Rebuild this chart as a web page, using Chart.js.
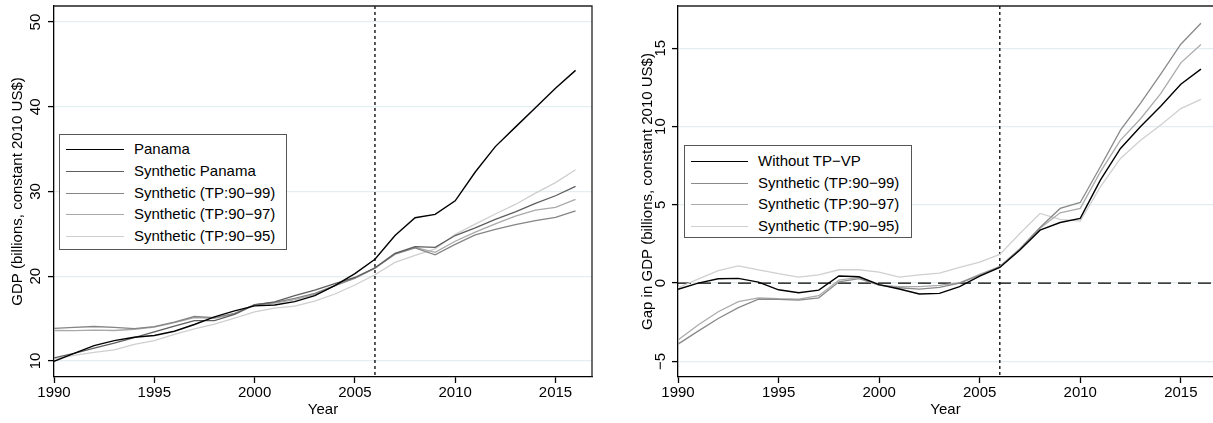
<!DOCTYPE html>
<html><head><meta charset="utf-8">
<script src="https://cdn.jsdelivr.net/npm/chart.js@4.4.0/dist/chart.umd.min.js"></script>
<style>
html,body{margin:0;padding:0;background:#fff;width:1213px;height:423px;overflow:hidden;font-family:"Liberation Sans",Arial,sans-serif;}
.wrap{position:absolute;top:0;height:423px;}
#w1{left:0;width:600px;} #w2{left:600px;width:613px;}
canvas{display:block;}
.legend{position:absolute;background:#fff;border:1.4px solid #555;box-sizing:border-box;}
.row{position:absolute;left:0;height:20px;width:100%;}
.row .ln{position:absolute;top:10px;height:0;}
.row .tx{position:absolute;top:0;font-size:15px;line-height:20px;white-space:nowrap;color:#000;}
</style></head><body>
<div class="wrap" id="w1"><canvas id="c1" width="600" height="423"></canvas></div>
<div class="wrap" id="w2"><canvas id="c2" width="613" height="423"></canvas></div>
<div class="legend" id="lg1"></div>
<div class="legend" id="lg2"></div>
<script>
// ---- data ----
const years = [1990,1991,1992,1993,1994,1995,1996,1997,1998,1999,2000,2001,2002,2003,2004,2005,2006,2007,2008,2009,2010,2011,2012,2013,2014,2015,2016];

const panama      = [9.95,10.9,11.8,12.4,12.8,13.0,13.5,14.3,15.2,15.9,16.5,16.6,17.0,17.7,18.9,20.3,22.0,24.8,26.9,27.3,28.9,32.3,35.3,37.6,39.9,42.2,44.3];
const synthPanama = [10.35,10.9,11.52,12.1,12.74,13.43,14.12,14.75,14.75,15.5,16.6,16.98,17.7,18.36,19.13,19.85,21.0,22.7,23.5,23.4,24.8,25.7,26.7,27.6,28.6,29.5,30.6];
const synth99     = [13.85,13.97,14.06,13.97,13.82,14.04,14.59,15.24,15.12,15.62,16.63,16.9,17.38,17.97,18.9,19.8,20.94,22.6,23.35,22.53,23.75,24.87,25.53,26.1,26.55,26.94,27.7];
const synth97     = [13.59,13.58,13.63,13.59,13.74,14.0,14.52,15.11,15.01,15.54,16.63,16.83,17.23,17.85,18.88,19.75,20.95,22.65,23.4,22.81,24.13,25.2,26.17,27.1,27.8,28.13,29.06];
const synth95     = [10.25,10.65,11.0,11.3,11.95,12.4,13.12,13.77,14.35,15.05,15.8,16.22,16.47,17.06,17.9,18.96,20.17,21.63,22.45,23.23,24.94,26.15,27.34,28.47,29.8,31.05,32.57];

const gapNoTPVP = [-0.4,0.0,0.28,0.3,0.06,-0.43,-0.62,-0.45,0.45,0.4,-0.1,-0.38,-0.7,-0.66,-0.23,0.45,1.0,2.11,3.38,3.87,4.13,6.58,8.6,10.0,11.3,12.7,13.67];
const gap99     = [-3.9,-3.07,-2.26,-1.57,-1.02,-1.04,-1.09,-0.94,0.08,0.28,-0.13,-0.3,-0.38,-0.27,0.0,0.5,1.06,2.2,3.55,4.77,5.15,7.43,9.77,11.5,13.35,15.26,16.6];
const gap97     = [-3.64,-2.68,-1.83,-1.19,-0.94,-1.0,-1.02,-0.81,0.19,0.36,-0.13,-0.23,-0.23,-0.15,0.02,0.55,1.05,2.15,3.5,4.49,4.77,7.1,9.13,10.5,12.1,14.07,15.24];
const gap95     = [-0.3,0.25,0.8,1.1,0.85,0.6,0.38,0.53,0.85,0.85,0.7,0.38,0.53,0.64,1.0,1.34,1.83,3.17,4.45,4.07,3.96,6.15,7.96,9.13,10.1,11.15,11.73];

const xTicks = [1990,1995,2000,2005,2010,2015];
const leftYTicks = [10,20,30,40,50];
const rightYTicks = [-5,0,5,10,15];
const rightYTickLabels = ['\u22125','0','5','10','15'];
const treatmentYear = 2006;

const leftLabels = ['Panama','Synthetic Panama','Synthetic (TP:90\u221299)','Synthetic (TP:90\u221297)','Synthetic (TP:90\u221295)'];
const rightLabels = ['Without TP\u2212VP','Synthetic (TP:90\u221299)','Synthetic (TP:90\u221297)','Synthetic (TP:90\u221295)'];

// ---- styling ----
const FONT = '"Liberation Sans", Arial, sans-serif';
const leftColors = ['#000000','#5e5e5e','#858585','#a9a9a9','#cfcfcf'];
const rightColors = ['#000000','#8a8a8a','#ababab','#d0d0d0'];

function pts(arr){ return years.map((yr,i)=>({x:yr,y:arr[i]})); }
function ds(label,arr,color,w){ return {label,data:pts(arr),borderColor:color,backgroundColor:color,borderWidth:w,pointRadius:0,tension:0,fill:false}; }

function decoPlugin(cfg){
  return {
    id:'deco',
    beforeDatasetsDraw(chart){
      const {ctx, chartArea:a, scales:{x,y}} = chart;
      ctx.save();
      ctx.strokeStyle='#000'; ctx.lineWidth=1.3;
      if (cfg.zeroLine){
        ctx.setLineDash([13,7]);
        const py=y.getPixelForValue(0);
        ctx.beginPath(); ctx.moveTo(a.left,py); ctx.lineTo(a.right,py); ctx.stroke();
      }
      ctx.setLineDash([3,3]);
      const px=x.getPixelForValue(treatmentYear);
      ctx.beginPath(); ctx.moveTo(px,a.top); ctx.lineTo(px,a.bottom); ctx.stroke();
      ctx.restore();
    },
    afterDraw(chart){
      const {ctx, chartArea:a, scales:{y}} = chart;
      ctx.save();
      ctx.strokeStyle='#222'; ctx.lineWidth=1.3;
      ctx.beginPath();
      ctx.moveTo(a.left,a.top); ctx.lineTo(a.right,a.top);
      if (cfg.rightBorder){ ctx.lineTo(a.right,a.bottom); }
      ctx.stroke();
      ctx.fillStyle='#000'; ctx.font='15px '+FONT;
      ctx.textAlign='center'; ctx.textBaseline='middle';
      cfg.yTicks.forEach((v,i)=>{
        const py=y.getPixelForValue(v);
        ctx.save(); ctx.translate(a.left-cfg.labelOffset,py); ctx.rotate(-Math.PI/2);
        ctx.fillText(cfg.yLabels[i],0,0); ctx.restore();
      });
      ctx.restore();
    }
  };
}

function makeChart(id, datasets, opt){
  return new Chart(document.getElementById(id), {
    type:'line',
    data:{datasets},
    options:{
      responsive:false, animation:false, devicePixelRatio:1,
      layout:{padding:{top:6,right:opt.padRight,left:0,bottom:0}},
      plugins:{legend:{display:false},tooltip:{enabled:false}},
      scales:{
        x:{type:'linear',min:1990,max:opt.xMax,
          afterBuildTicks:s=>{s.ticks=xTicks.map(v=>({value:v}));},
          afterFit:s=>{s.height=46;},
          ticks:{color:'#000',font:{family:FONT,size:15},padding:1,maxRotation:0,callback:v=>String(v)},
          grid:{drawOnChartArea:false,drawTicks:true,tickLength:6,tickColor:'#000',tickWidth:1.3},
          border:{display:true,color:'#000',width:1.3},
          title:{display:true,text:'Year',color:'#000',font:{family:FONT,size:15},padding:{top:0,bottom:4}}
        },
        y:{type:'linear',min:opt.yMin,max:opt.yMax,
          afterBuildTicks:s=>{s.ticks=opt.yTicks.map(v=>({value:v}));},
          afterFit:s=>{s.width=opt.yWidth;},
          ticks:{display:false},
          grid:{color:'#e4edf0',lineWidth:1.2,drawTicks:true,tickLength:6,tickColor:'#000',tickWidth:1.3},
          border:{display:true,color:'#000',width:1.3},
          title:{display:true,text:opt.yTitle,color:'#000',font:{family:FONT,size:15},padding:{top:opt.yTitlePad,bottom:0}}
        }
      }
    },
    plugins:[decoPlugin(opt.deco)]
  });
}

makeChart('c1',[
  ds(leftLabels[0],panama,leftColors[0],1.4),
  ds(leftLabels[1],synthPanama,leftColors[1],1.3),
  ds(leftLabels[2],synth99,leftColors[2],1.3),
  ds(leftLabels[3],synth97,leftColors[3],1.3),
  ds(leftLabels[4],synth95,leftColors[4],1.3)
],{padRight:8,xMax:2016.82,yMin:8.1,yMax:51.9,yTicks:leftYTicks,yWidth:54,
  yTitle:'GDP (billions, constant 2010 US$)',yTitlePad:9,
  deco:{zeroLine:false,rightBorder:true,yTicks:leftYTicks,yLabels:leftYTicks.map(String),labelOffset:18}});

makeChart('c2',[
  ds(rightLabels[0],gapNoTPVP,rightColors[0],1.4),
  ds(rightLabels[1],gap99,rightColors[1],1.3),
  ds(rightLabels[2],gap97,rightColors[2],1.3),
  ds(rightLabels[3],gap95,rightColors[3],1.3)
],{padRight:0,xMax:2016.6,yMin:-6.0,yMax:17.7,yTicks:rightYTicks,yWidth:78,
  yTitle:'Gap in GDP (billions, constant 2010 US$)',yTitlePad:39,
  deco:{zeroLine:true,rightBorder:false,yTicks:rightYTicks,yLabels:rightYTickLabels,labelOffset:17.5}});

// ---- HTML legends ----
function buildLegend(id, labels, colors, box){
  const el=document.getElementById(id);
  el.style.left=box.left+'px'; el.style.top=box.top+'px';
  el.style.width=box.width+'px'; el.style.height=box.height+'px';
  labels.forEach((lab,i)=>{
    const r=document.createElement('div'); r.className='row';
    r.style.top=(box.first-10+box.step*i)+'px';
    const ln=document.createElement('div'); ln.className='ln';
    ln.style.left=box.lineL+'px'; ln.style.width=box.lineW+'px';
    ln.style.borderTop=(i===0?'1.6px':'1.4px')+' solid '+colors[i];
    const tx=document.createElement('div'); tx.className='tx';
    tx.style.left=box.textL+'px'; tx.textContent=lab;
    r.appendChild(ln); r.appendChild(tx); el.appendChild(r);
  });
}
buildLegend('lg1',leftLabels,leftColors,{left:59,top:134,width:228,height:116,first:14,step:21.75,lineL:6,lineW:58,textL:74});
buildLegend('lg2',rightLabels,rightColors,{left:684,top:145,width:228,height:93,first:15,step:21.5,lineL:6,lineW:57,textL:73});
</script>
</body></html>
